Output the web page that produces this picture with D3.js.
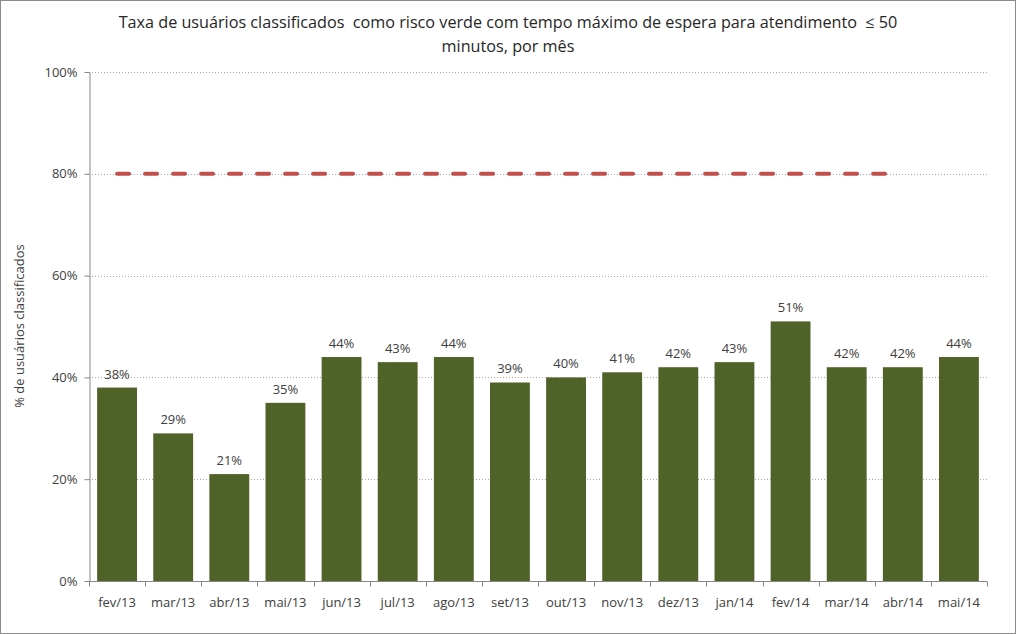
<!DOCTYPE html>
<html><head><meta charset="utf-8">
<script src="https://cdn.jsdelivr.net/npm/d3@7"></script>
<style>body{margin:0;background:#fff;} text{font-family:"Open Sans","Liberation Sans",sans-serif;white-space:pre;}</style>
</head><body>
<svg id="chart" width="1016" height="634"></svg>
<script>
const categories = ["fev/13","mar/13","abr/13","mai/13","jun/13","jul/13","ago/13","set/13","out/13","nov/13","dez/13","jan/14","fev/14","mar/14","abr/14","mai/14"];
const values = [38,29,21,35,44,43,44,39,40,41,42,43,51,42,42,44];
const target = [80,80,80,80,80,80,80,80,80,80,80,80,80,80,80,null];
const yTicks = [0,20,40,60,80,100];
const titleLines = ["Taxa de usuários classificados  como risco verde com tempo máximo de espera para atendimento  ≤ 50","minutos, por mês"];
const yLabel = "% de usuários classificados";

const svg = d3.select("#chart");
svg.append("rect").attr("x",0.5).attr("y",0.5).attr("width",1015).attr("height",633).attr("fill","#fff").attr("stroke","#8c8c8c");

const x = d3.scaleBand().domain(categories).range([89,987]).paddingInner(0.29).paddingOuter(0.145);
const y = d3.scaleLinear().domain([0,100]).range([581,72]);

// grid
svg.append("g").selectAll("line").data(yTicks.filter(d=>d>0)).join("line")
  .attr("x1",89).attr("x2",987).attr("y1",d=>Math.round(y(d))+0.5).attr("y2",d=>Math.round(y(d))+0.5)
  .attr("stroke","#a6a6a6").attr("stroke-dasharray","1,2");

// bars
svg.append("g").selectAll("rect").data(values).join("rect")
  .attr("x",(d,i)=>x(categories[i])).attr("width",x.bandwidth())
  .attr("y",d=>y(d)).attr("height",d=>y(0)-y(d)).attr("fill","#4f6228");

// value labels
svg.append("g").selectAll("text").data(values).join("text")
  .attr("x",(d,i)=>x(categories[i])+x.bandwidth()/2).attr("y",d=>y(d)-9)
  .attr("text-anchor","middle").attr("font-size",13).attr("fill","#404040").text(d=>d+"%");

// target line
const line = d3.line().defined(d=>d!=null).x((d,i)=>x(categories[i])+x.bandwidth()/2).y(d=>y(d));
const tp = svg.append("path").datum(target).attr("d",line).attr("fill","none")
  .attr("stroke","#c0504d").attr("stroke-width",4).attr("stroke-linecap","round");
const L = tp.node().getTotalLength();
const nDash = Math.floor(L/28);
const pattern = [];
for(let i=0;i<nDash-1;i++){pattern.push(12,16);}
pattern.push(12,10000);
tp.attr("stroke-dasharray",pattern.join(","));

// axes
const yAxis = svg.append("g").attr("transform","translate(89.5,0)")
  .call(d3.axisLeft(y).tickValues(yTicks).tickFormat(d=>d+"%").tickSize(5).tickSizeOuter(0));
const xAxis = svg.append("g").attr("transform","translate(0,581.5)")
  .call(d3.axisBottom(x).tickSize(0).tickPadding(16));
xAxis.selectAll(".tick line").remove();
xAxis.append("g").selectAll("line").data(d3.range(categories.length+1)).join("line")
  .attr("x1",i=>Math.round(89+i*x.step())+0.5).attr("x2",i=>Math.round(89+i*x.step())+0.5)
  .attr("y1",0).attr("y2",5).attr("stroke","#868686");
[yAxis,xAxis].forEach(g=>{
  g.selectAll(".domain").attr("stroke","#868686");
  g.selectAll(".tick line").attr("stroke","#868686");
  g.selectAll("text").attr("font-size",13).attr("fill","#404040").attr("font-family","'Open Sans','Liberation Sans',sans-serif");
});
yAxis.selectAll("text").attr("dx","-4");
xAxis.select(".domain").attr("d","M89,0H987");

// title
svg.append("g").selectAll("text").data(titleLines).join("text")
  .attr("x",508).attr("y",(d,i)=>28+i*24).attr("text-anchor","middle")
  .attr("font-size",16.2).attr("fill","#262626").text(d=>d);

// y label
svg.append("text").attr("transform","translate(24,326) rotate(-90)").attr("text-anchor","middle")
  .attr("font-size",13).attr("fill","#404040").text(yLabel);
</script>
</body></html>
